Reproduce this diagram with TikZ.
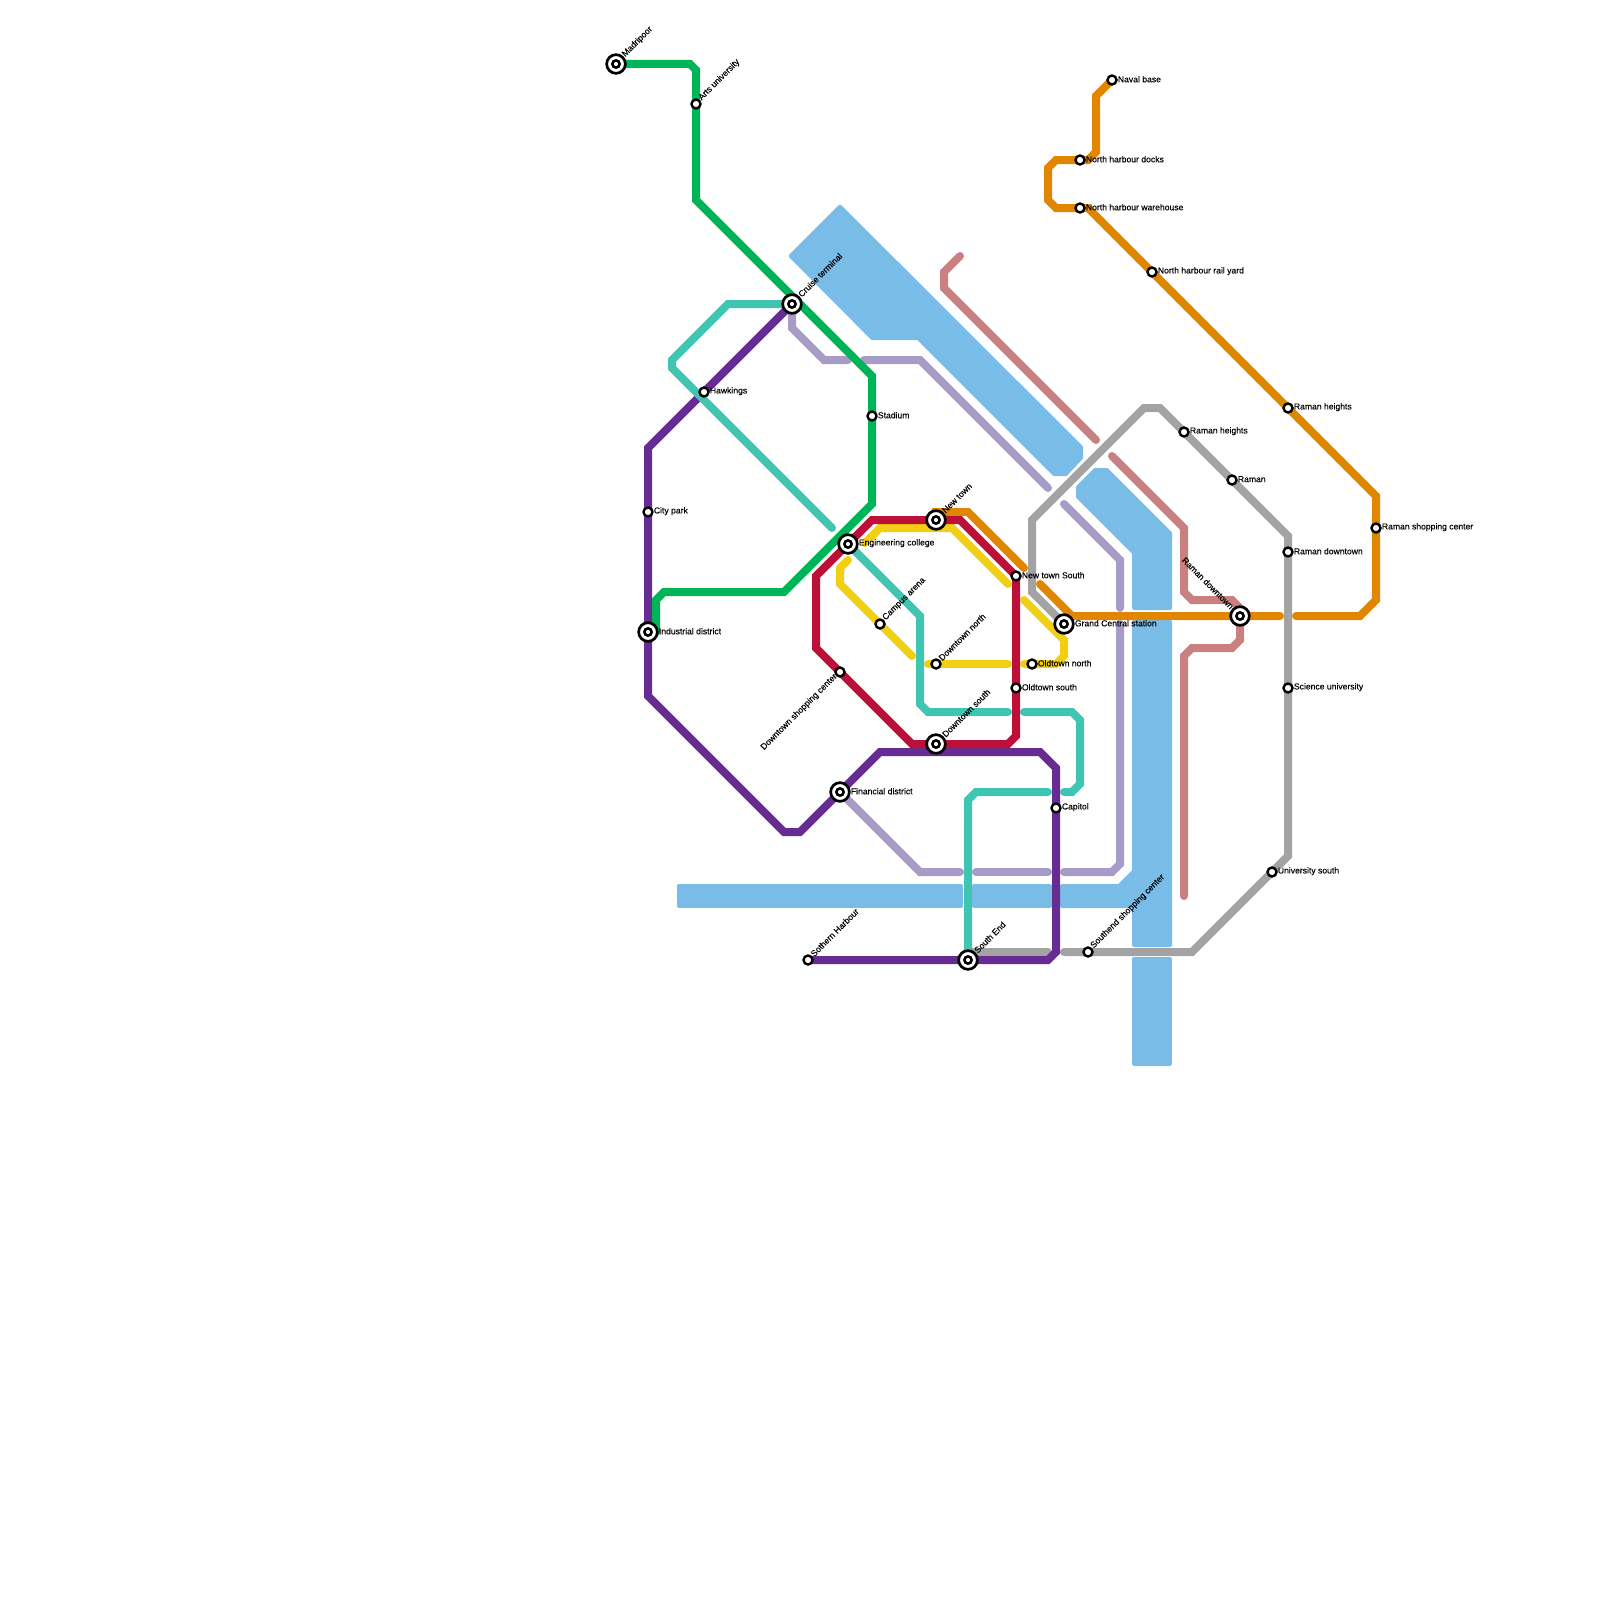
\documentclass[tikz,border=0pt]{standalone}
\usepackage{fontspec}
\setmainfont{Liberation Sans}[FakeBold=0.12]
\usetikzlibrary{backgrounds}
\definecolor{riverblue}{RGB}{122,188,232}
\definecolor{greenline}{RGB}{0,181,88}
\definecolor{purpleline}{RGB}{102,44,145}
\definecolor{tealline}{RGB}{65,197,179}
\definecolor{lilacline}{RGB}{167,155,200}
\definecolor{redline}{RGB}{189,16,56}
\definecolor{yellowline}{RGB}{241,208,20}
\definecolor{orangeline}{RGB}{224,134,0}
\definecolor{pinkline}{RGB}{201,128,128}
\definecolor{grayline}{RGB}{163,163,163}
\tikzset{
    route/.style={line width=8pt, line cap=round, line join=miter},
    river/.style={fill=riverblue, draw=riverblue, line width=3pt, line join=round},
    stop/.style={circle, fill=white, draw=black, line width=2.4pt, inner sep=0pt, minimum size=9pt, label distance=1.5pt},
    hub/.style={circle, fill=white, draw=black, line width=2.7pt, inner sep=0pt, minimum size=18.7pt, label distance=3.5pt,
        path picture={\draw[black, line width=2.6pt] (path picture bounding box.center) circle (3.6pt);}},
    stoptext/.style={inner sep=0pt, yshift=0.8pt, font=\fontsize{8.6}{10}\selectfont},
    stoptextup/.style={stoptext, rotate=45, anchor=west},
    stoptextdown/.style={stoptext, rotate=45, anchor=east},
}
\begin{document}
\begin{tikzpicture}[x=1pt, y=-1pt]
    \useasboundingbox (0,0) rectangle (1600,1600);
    % interchanges
    \node[hub, label={[stoptextup]45:Madripoor}] (madripoor) at (616,64) {};
    \node[hub, label={[stoptextup]45:Cruise terminal}] (cruise) at (792,304) {};
    \node[hub, label={[stoptext]right:Industrial district}] (industrial) at (648,632) {};
    \node[hub, label={[stoptext]right:Engineering college}] (engineering) at (848,544) {};
    \node[hub, label={[stoptextup]45:New town}] (newtown) at (936,520) {};
    \node[hub, label={[stoptextup]45:Downtown south}] (downtownsouth) at (936,744) {};
    \node[hub, label={[stoptext]right:Financial district}] (financial) at (840,792) {};
    \node[hub, label={[stoptextup]45:South End}] (southend) at (968,960) {};
    \node[hub, label={[stoptext]right:Grand Central station}] (grandcentral) at (1064,624) {};
    \node[hub, label={[stoptext, rotate=-45, anchor=east]135:Raman downtown}] (ramanhub) at (1240,616) {};
    % stops
    \node[stop, label={[stoptextup]45:Arts university}] (arts) at (696,104) {};
    \node[stop, label={[stoptext]right:Hawkings}] (hawkings) at (704,392) {};
    \node[stop, label={[stoptext]right:Stadium}] (stadium) at (872,416) {};
    \node[stop, label={[stoptext]right:City park}] (citypark) at (648,512) {};
    \node[stop, label={[stoptextup]45:Campus arena}] (campus) at (880,624) {};
    \node[stop, label={[stoptextup]45:Downtown north}] (downtownnorth) at (936,664) {};
    \node[stop, label={[stoptext]right:New town South}] (newtownsouth) at (1016,576) {};
    \node[stop, label={[stoptext]right:Oldtown north}] (oldtownnorth) at (1032,664) {};
    \node[stop, label={[stoptext]right:Oldtown south}] (oldtownsouth) at (1016,688) {};
    \node[stop, label={[stoptextdown]225:Downtown shopping center}] (downtownshopping) at (840,672) {};
    \node[stop, label={[stoptext]right:Capitol}] (capitol) at (1056,808) {};
    \node[stop, label={[stoptextup]45:Sothern Harbour}] (sothern) at (808,960) {};
    \node[stop, label={[stoptextup]45:Southend shopping center}] (southendshopping) at (1088,952) {};
    \node[stop, label={[stoptext]right:University south}] (universitysouth) at (1272,872) {};
    \node[stop, label={[stoptext]right:Science university}] (science) at (1288,688) {};
    \node[stop, label={[stoptext]right:Raman downtown}] (ramandowntown) at (1288,552) {};
    \node[stop, label={[stoptext]right:Raman}] (raman) at (1232,480) {};
    \node[stop, label={[stoptext]right:Raman heights}] (ramanheights) at (1184,432) {};
    \node[stop, label={[stoptext]right:Raman heights}] (ramanheightseast) at (1288,408) {};
    \node[stop, label={[stoptext]right:Raman shopping center}] (ramanshopping) at (1376,528) {};
    \node[stop, label={[stoptext]right:Naval base}] (naval) at (1112,80) {};
    \node[stop, label={[stoptext]right:North harbour docks}] (docks) at (1080,160) {};
    \node[stop, label={[stoptext]right:North harbour warehouse}] (warehouse) at (1080,208) {};
    \node[stop, label={[stoptext]right:North harbour rail yard}] (railyard) at (1152,272) {};
    % free ends of the line pieces
    \coordinate (tealA) at (832,528);
    \coordinate (tealB) at (1008,712);
    \coordinate (tealC) at (1024,712);
    \coordinate (tealD) at (1064,792);
    \coordinate (tealE) at (1048,792);
    \coordinate (lilacA) at (848,360);
    \coordinate (lilacB) at (864,360);
    \coordinate (lilacC) at (1048,488);
    \coordinate (lilacD) at (1064,504);
    \coordinate (lilacE) at (1120,608);
    \coordinate (lilacF) at (1120,624);
    \coordinate (lilacG) at (1064,872);
    \coordinate (lilacH) at (1048,872);
    \coordinate (lilacI) at (976,872);
    \coordinate (lilacJ) at (960,872);
    \coordinate (yellowA) at (865,543);
    \coordinate (yellowB) at (1008,584);
    \coordinate (yellowC) at (848,560);
    \coordinate (yellowD) at (912,656);
    \coordinate (yellowE) at (928,664);
    \coordinate (yellowF) at (1008,664);
    \coordinate (yellowG) at (1024,600);
    \coordinate (yellowH) at (1024,664);
    \coordinate (orangeA) at (1024,568);
    \coordinate (orangeB) at (1040,584);
    \coordinate (orangeC) at (1280,616);
    \coordinate (orangeD) at (1296,616);
    \coordinate (pinkA) at (960,256);
    \coordinate (pinkB) at (1096,440);
    \coordinate (pinkC) at (1112,456);
    \coordinate (pinkD) at (1184,896);
    \coordinate (grayA) at (1064,952);
    \coordinate (grayB) at (1048,952);
    \begin{scope}[on background layer]
        % river
        \fill[river] (840,206) -- (790,256) -- (872,338.5) -- (918,338.5) -- (1054,474.5) -- (1066,474.5) -- (1081.5,458) -- (1081.5,447) -- cycle;
        \fill[river] (1095,469.5) -- (1107,469.5) -- (1170.5,533) -- (1170.5,608.5) -- (1133.5,608.5) -- (1133.5,553) -- (1077.5,497) -- (1077.5,487) -- cycle;
        \fill[river] (1133.5,621.5) -- (1170.5,621.5) -- (1170.5,945.5) -- (1133.5,945.5) -- (1133.5,906.5) -- (1061.5,906.5) -- (1061.5,885.5) -- (1119,885.5) -- (1133.5,871) -- cycle;
        \fill[river] (1133.5,958.5) -- (1170.5,958.5) -- (1170.5,1064.5) -- (1133.5,1064.5) -- cycle;
        \fill[river] (973.5,885.5) -- (1050.5,885.5) -- (1050.5,906.5) -- (973.5,906.5) -- cycle;
        \fill[river] (678.5,885.5) -- (961.5,885.5) -- (961.5,906.5) -- (678.5,906.5) -- cycle;
        % lines
        \draw[route, pinkline] (pinkA) -- (944,272) -- (944,288) -- (pinkB);
        \draw[route, pinkline] (pinkC) -- (1184,528) -- (1184,592) -- (1192,600) -- (1232,600) -- (1240,608) -- (1240,640) -- (1232,648) -- (1192,648) -- (1184,656) -- (pinkD);
        \draw[route, lilacline] (cruise.center) -- (792,328) -- (824,360) -- (lilacA);
        \draw[route, lilacline] (lilacB) -- (920,360) -- (lilacC);
        \draw[route, lilacline] (lilacD) -- (1120,560) -- (lilacE);
        \draw[route, lilacline] (lilacF) -- (1120,864) -- (1112,872) -- (lilacG);
        \draw[route, lilacline] (lilacH) -- (lilacI);
        \draw[route, lilacline] (lilacJ) -- (920,872) -- (financial.center);
        \draw[route, grayline] (grandcentral.center) -- (1032,592) -- (1032,520) -- (1144,408) -- (1160,408) -- (1288,536) -- (1288,856) -- (1192,952) -- (grayA);
        \draw[route, grayline] (grayB) -- (968,952);
        \draw[route, yellowline] (yellowA) -- (880,528) -- (952,528) -- (yellowB);
        \draw[route, yellowline] (yellowC) -- (840,568) -- (840,584) -- (yellowD);
        \draw[route, yellowline] (yellowE) -- (yellowF);
        \draw[route, yellowline] (yellowG) -- (1064,640) -- (1064,656) -- (1056,664) -- (yellowH);
        \draw[route, orangeline] (newtown.center) -- (936,512) -- (968,512) -- (orangeA);
        \draw[route, orangeline] (orangeB) -- (1072,616) -- (orangeC);
        \draw[route, orangeline] (orangeD) -- (1360,616) -- (1376,600) -- (1376,496) -- (1088,208) -- (1056,208) -- (1048,200) -- (1048,168) -- (1056,160) -- (1088,160) -- (1096,152) -- (1096,96) -- (naval.center);
        \draw[route, purpleline] (cruise.center) -- (648,448) -- (648,696) -- (784,832) -- (800,832) -- (880,752) -- (1040,752) -- (1056,768) -- (1056,952) -- (1048,960) -- (sothern.center);
        \draw[route, tealline] (cruise.center) -- (728,304) -- (672,360) -- (672,368) -- (tealA);
        \draw[route, tealline] (engineering.center) -- (920,616) -- (920,704) -- (928,712) -- (tealB);
        \draw[route, tealline] (tealC) -- (1072,712) -- (1080,720) -- (1080,784) -- (1072,792) -- (tealD);
        \draw[route, tealline] (tealE) -- (976,792) -- (968,800) -- (southend.center);
        \draw[route, redline] (newtownsouth.center) -- (960,520) -- (872,520) -- (816,576) -- (816,648) -- (912,744) -- (1008,744) -- (1016,736) -- cycle;
        \draw[route, greenline] (madripoor.center) -- (690,64) -- (696,70) -- (696,200) -- (872,376) -- (872,504) -- (784,592) -- (664,592) -- (656,600) -- (656,632);
    \end{scope}
\end{tikzpicture}
\end{document}
